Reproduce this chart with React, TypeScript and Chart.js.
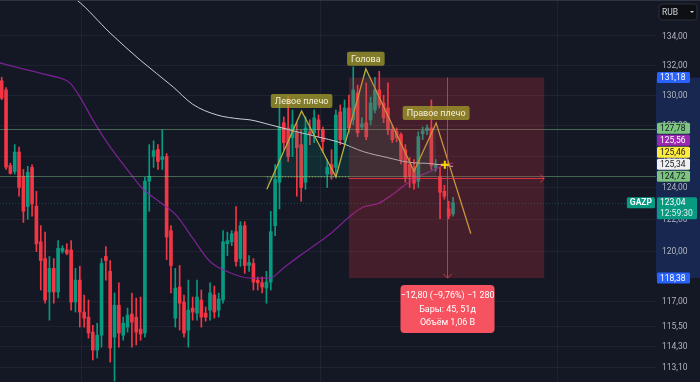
import { useEffect, useRef } from 'react';
import { Chart, registerables } from 'chart.js';
Chart.register(...registerables);

// ---- candles (daily, GAZP) ----
const opens = [
  130.96, 130.35, 125.4, 125.02, 126.27, 124.72, 122.8, 125.28, 122.82, 120.6,
  119.57, 117.54, 118.97, 117.54, 120.02, 120.1, 120.1, 116.94, 118.26, 116.34,
  116.04, 115.15, 114.1, 114.97, 119.7, 118.79, 114.86, 116.75, 114.97, 115.45,
  116.22, 116.04, 115.33, 115.1, 124.4, 125.98, 126.43, 125.79, 125.98, 121.29,
  115.98, 117.84, 116.94, 115.27, 116.58, 116.28, 117.06, 116.28, 116.46, 117.36,
  116.46, 117.06, 120.48, 120.6, 121.23, 119.57, 121.6, 119.15, 119.27, 118.26,
  118.1, 117.78, 118.14, 121.6, 124.33, 128.18, 127.84, 127.2, 127.59, 126.75,
  124.33, 127.59, 127.52, 128.37, 127.72, 124.85, 125.47, 125.28, 128.89, 127.07,
  129.15, 128.37, 130.15, 127.9, 128.18, 128.37, 129.02, 130.35, 129.48, 129.15,
  127.72, 127.59, 127.4, 126.43, 125.47, 125.15, 124.4, 127.46, 127.65, 127.84,
  125.28, 124.65, 123.76, 122.65, 122.33,
];
const highs = [
  131.2, 130.5, 125.55, 126.75, 126.6, 125.15, 125.35, 125.45, 123.76, 121.6,
  121.2, 119.7, 119.57, 120.67, 120.36, 120.48, 120.67, 118.97, 119.1, 117.36,
  117.06, 115.56, 115.68, 119.57, 120.3, 119.45, 117.48, 118.1, 116.04, 116.58,
  117.48, 117.18, 117.24, 124.65, 126.75, 127.0, 126.75, 127.72, 126.17, 121.6,
  118.97, 119.15, 117.36, 118.26, 117.24, 118.26, 117.66, 116.64, 118.1, 117.9,
  117.48, 121.29, 121.2, 121.29, 122.8, 121.85, 121.85, 119.75, 119.57, 118.44,
  118.44, 118.79, 122.5, 125.47, 129.48, 128.56, 129.94, 129.02, 128.18, 127.72,
  128.56, 128.37, 129.02, 128.69, 127.9, 125.79, 126.43, 129.02, 129.35, 129.68,
  130.0, 131.9, 130.68, 128.5, 130.82, 129.87, 131.2, 131.6, 130.0, 130.82,
  128.05, 127.84, 127.52, 126.75, 125.92, 125.79, 127.59, 127.9, 128.05, 129.68,
  125.79, 125.28, 124.14, 123.13, 123.38,
];
const lows = [
  129.7, 125.15, 124.85, 124.85, 123.45, 121.8, 122.0, 122.2, 120.0, 117.66,
  116.87, 115.86, 116.87, 117.18, 119.9, 119.8, 116.46, 116.34, 115.45, 115.45,
  114.8, 113.52, 113.64, 114.27, 118.26, 113.4, 112.3, 114.27, 114.68, 115.15,
  114.27, 114.4, 114.68, 114.86, 122.5, 125.28, 125.15, 125.15, 119.5, 117.48,
  115.45, 115.27, 114.86, 114.27, 115.86, 115.86, 115.45, 115.8, 115.86, 115.98,
  116.04, 116.87, 119.75, 120.36, 119.1, 119.1, 118.67, 118.79, 117.66, 117.66,
  117.48, 116.87, 117.66, 120.98, 122.65, 126.43, 125.66, 125.98, 123.45, 123.13,
  123.89, 126.75, 126.88, 127.27, 126.24, 124.0, 124.52, 124.65, 126.75, 126.75,
  127.52, 128.05, 127.27, 127.72, 127.07, 128.05, 128.82, 129.15, 128.18, 127.4,
  126.88, 126.94, 125.5, 124.33, 124.0, 123.89, 124.0, 127.07, 127.4, 125.15,
  125.02, 122.03, 123.26, 122.03, 122.2,
];
const closes = [
  129.8, 125.3, 124.9, 126.27, 124.0, 122.5, 124.97, 122.96, 120.48, 119.45,
  117.06, 118.97, 117.54, 120.2, 120.2, 119.9, 116.94, 118.26, 116.34, 115.98,
  115.1, 114.1, 114.97, 119.27, 119.45, 114.22, 116.75, 115.1, 115.68, 116.16,
  115.74, 115.15, 115.04, 124.4, 124.72, 126.36, 125.66, 125.98, 120.9, 119.15,
  117.78, 116.87, 115.1, 116.46, 116.34, 117.24, 116.04, 116.04, 117.48, 116.34,
  117.12, 120.6, 120.67, 121.1, 119.39, 121.6, 119.15, 119.33, 118.14, 118.1,
  117.84, 118.14, 121.23, 124.52, 127.9, 126.88, 125.98, 128.05, 126.56, 124.0,
  127.84, 127.4, 128.5, 127.72, 126.94, 125.28, 124.85, 128.7, 127.07, 129.15,
  127.84, 130.35, 127.52, 128.1, 127.27, 129.48, 130.35, 129.35, 128.5, 127.72,
  127.07, 127.2, 125.79, 124.65, 124.72, 124.27, 127.27, 127.65, 127.84, 125.4,
  125.47, 123.7, 123.45, 122.2, 123.04,
];

// ---- moving averages (read at bar positions) ----
const whiteMaIdx = [14, 17.3, 25, 31.9, 39.5, 44, 49.6, 54.9, 57.2, 61.8, 68, 72.6, 78, 83.3, 88.8, 94, 98.7, 104];
const whiteMaVal = [137.05, 136.49, 134.2, 132.36, 130.55, 129.4, 128.69, 128.43, 128.37, 128.05, 127.59, 127.27, 126.88, 126.3, 125.92, 125.6, 125.53, 125.34];
const purpleMaIdx = [-0.4, 4.2, 9.5, 13.4, 15.7, 18, 21, 24.3, 28.9, 32.6, 36.5, 40.4, 44.1, 48, 51.9, 57.2, 61.8, 64.8, 68.7, 72.6, 76.3, 80.3, 83.3, 86.5, 89.5, 92.5, 95.7, 98.7, 101.7, 104];
const purpleMaVal = [132.16, 131.82, 131.42, 131.15, 130.82, 129.89, 128.37, 126.88, 125.15, 123.89, 123.07, 122.2, 120.79, 119.39, 118.79, 118.38, 118.38, 118.97, 119.75, 120.48, 121.23, 122.2, 122.77, 122.96, 123.45, 124.07, 124.65, 125.02, 125.4, 125.56];

// ---- head & shoulders drawing ----
const patternIdx = [61.1, 69.1, 77.0, 83.9, 95.0, 100.1, 108.1];
const patternVal = [123.89, 128.95, 124.67, 131.77, 125.04, 128.16, 121.1];
const patternLabels = ['Левое плечо', 'Голова', 'Правое плечо'];
const patternLabelPoints = [1, 3, 5];
const necklinePrice = 124.67;

// ---- levels, measure tool ----
const levelLines = [127.78, 124.72];
const measureStartIdx = 80;
const measureEndIdx = 125;
const measureFrom = 131.18;
const measureTo = 118.38;
const measureDays = 51;
const measureVolume = '1,06 B';
const cursorIdx = 102.1;
const cursorPrice = 125.46;
const symbol = 'GAZP';
const lastTime = '12:59:30';
const currency = 'RUB';

// ---- axes ----
const priceTicks = [134, 132, 130, 128, 126, 124, 122, 120, 117, 115.5, 114.3, 113.1];
const timeGridIdx = [18.3, 73.3, 128];
const axisTags = [
  { v: 131.18, bg: '#2962ff', fg: '#ffffff' },
  { v: 127.78, bg: '#7cc47f', fg: '#131722' },
  { v: 125.56, bg: '#9c27b0', fg: '#ffffff' },
  { v: 125.46, bg: '#ffeb3b', fg: '#131722' },
  { v: 125.34, bg: '#f0f0f0', fg: '#131722' },
  { v: 124.72, bg: '#7cc47f', fg: '#131722' },
  { v: 118.38, bg: '#2962ff', fg: '#ffffff' },
];

const X_MIN = -0.39;
const X_MAX = 150.76;
const Y_MIN = 112.25;
const Y_MAX = 136.49;
const AXIS_W = 44;

const UP = '#089981';
const DOWN = '#f23645';
const BG = '#141824';
const FONT = 'Roboto, "Noto Sans", sans-serif';

const fmt = (v: number) => v.toFixed(2).replace('.', ',').replace('-', '−');

function rrect(ctx: CanvasRenderingContext2D, x: number, y: number, w: number, h: number, r: number) {
  ctx.beginPath();
  ctx.moveTo(x + r, y);
  ctx.lineTo(x + w - r, y);
  ctx.quadraticCurveTo(x + w, y, x + w, y + r);
  ctx.lineTo(x + w, y + h - r);
  ctx.quadraticCurveTo(x + w, y + h, x + w - r, y + h);
  ctx.lineTo(x + r, y + h);
  ctx.quadraticCurveTo(x, y + h, x, y + h - r);
  ctx.lineTo(x, y + r);
  ctx.quadraticCurveTo(x, y, x + r, y);
  ctx.closePath();
}

const overlay = {
  id: 'overlay',
  beforeDraw(chart: any) {
    const { ctx, width, height, chartArea: a } = chart;
    const ys = chart.scales.y;
    ctx.save();
    ctx.fillStyle = BG;
    ctx.fillRect(0, 0, width, height);
    const t = ys.getPixelForValue(measureFrom);
    const b = ys.getPixelForValue(measureTo);
    ctx.fillStyle = 'rgba(41,98,255,0.2)';
    ctx.fillRect(a.right, t, width - a.right, b - t);
    ctx.restore();
  },
  beforeDatasetsDraw(chart: any) {
    const { ctx, chartArea: a } = chart;
    const xs = chart.scales.x;
    const ys = chart.scales.y;
    ctx.save();
    ctx.strokeStyle = 'rgba(255,255,255,0.05)';
    ctx.lineWidth = 1;
    timeGridIdx.forEach((i) => {
      const x = Math.round(xs.getPixelForValue(i)) + 0.5;
      ctx.beginPath();
      ctx.moveTo(x, a.top);
      ctx.lineTo(x, a.bottom);
      ctx.stroke();
    });
    // last price line
    const ly = Math.round(ys.getPixelForValue(closes[closes.length - 1])) + 0.5;
    ctx.strokeStyle = 'rgba(8,153,129,0.4)';
    ctx.setLineDash([1, 2]);
    ctx.beginPath();
    ctx.moveTo(a.left, ly);
    ctx.lineTo(a.right, ly);
    ctx.stroke();
    ctx.restore();
  },
  afterDatasetsDraw(chart: any) {
    const { ctx, chartArea: a } = chart;
    const xs = chart.scales.x;
    const ys = chart.scales.y;
    ctx.save();
    // level lines
    ctx.strokeStyle = 'rgba(129,199,132,0.45)';
    ctx.lineWidth = 1;
    levelLines.forEach((v) => {
      const y = Math.round(ys.getPixelForValue(v)) + 0.5;
      ctx.beginPath();
      ctx.moveTo(a.left, y);
      ctx.lineTo(a.right, y);
      ctx.stroke();
    });
    // measure box
    const x0 = xs.getPixelForValue(measureStartIdx);
    const x1 = xs.getPixelForValue(measureEndIdx);
    const t = ys.getPixelForValue(measureFrom);
    const b = ys.getPixelForValue(measureTo);
    ctx.fillStyle = 'rgba(242,54,69,0.22)';
    ctx.fillRect(x0, t, x1 - x0, b - t);
    const cx = Math.round((x0 + x1) / 2) + 0.5;
    const cy = Math.round((t + b) / 2) + 0.5;
    ctx.strokeStyle = 'rgba(242,54,69,0.85)';
    ctx.lineWidth = 1;
    ctx.beginPath();
    ctx.moveTo(x0, cy);
    ctx.lineTo(x1, cy);
    ctx.moveTo(x1 - 4, cy - 4);
    ctx.lineTo(x1, cy);
    ctx.lineTo(x1 - 4, cy + 4);
    ctx.moveTo(cx, t);
    ctx.lineTo(cx, b);
    ctx.moveTo(cx - 4, b - 4);
    ctx.lineTo(cx, b);
    ctx.lineTo(cx + 4, b - 4);
    ctx.stroke();
    // cursor plus
    const px = xs.getPixelForValue(cursorIdx);
    const py = ys.getPixelForValue(cursorPrice);
    ctx.strokeStyle = '#ffd600';
    ctx.lineWidth = 2;
    ctx.beginPath();
    ctx.moveTo(px - 4, py);
    ctx.lineTo(px + 4, py);
    ctx.moveTo(px, py - 4);
    ctx.lineTo(px, py + 4);
    ctx.stroke();
    // pattern labels
    ctx.font = `9px ${FONT}`;
    ctx.textAlign = 'center';
    ctx.textBaseline = 'middle';
    patternLabels.forEach((txt, k) => {
      const pi = patternLabelPoints[k];
      const lx = xs.getPixelForValue(patternIdx[pi]);
      const lyy = ys.getPixelForValue(patternVal[pi]);
      const w = ctx.measureText(txt).width + 8;
      const h = 14;
      ctx.fillStyle = 'rgba(160,152,42,0.78)';
      rrect(ctx, lx - w / 2, lyy - 3 - h, w, h, 2);
      ctx.fill();
      ctx.fillStyle = '#f3f0d6';
      ctx.fillText(txt, lx, lyy - 3 - h / 2 + 0.5);
    });
    // measure tooltip
    const diff = measureTo - measureFrom;
    const pct = (diff / measureFrom) * 100;
    const ticks = Math.round(diff * 100);
    const tickStr = (ticks < 0 ? '−' : '') + Math.abs(ticks).toLocaleString('en-US').replace(/,/g, ' ');
    const lines = [
      `${fmt(diff)} (${fmt(pct)}%) ${tickStr}`,
      `Бары: ${measureEndIdx - measureStartIdx}, ${measureDays}д`,
      `Объём ${measureVolume}`,
    ];
    const tw = 94;
    const th = 48;
    const tx = cx - tw / 2;
    const ty = b + 7;
    ctx.fillStyle = '#f7525f';
    rrect(ctx, tx, ty, tw, th, 4);
    ctx.fill();
    ctx.fillStyle = '#ffffff';
    ctx.font = `9px ${FONT}`;
    lines.forEach((l, k) => ctx.fillText(l, cx, ty + 11 + k * 13.5));
    // symbol label
    const lp = ys.getPixelForValue(closes[closes.length - 1]);
    ctx.font = `bold 8.5px ${FONT}`;
    const sw = ctx.measureText(symbol).width + 6;
    ctx.fillStyle = UP;
    rrect(ctx, a.right - 1 - sw, lp - 5.5, sw, 11, 1.5);
    ctx.fill();
    ctx.fillStyle = '#ffffff';
    ctx.fillText(symbol, a.right - 1 - sw / 2, lp + 0.5);
    ctx.restore();
  },
  afterDraw(chart: any) {
    const { ctx, chartArea: a, width } = chart;
    const ys = chart.scales.y;
    ctx.save();
    // top border
    ctx.fillStyle = '#2f3340';
    ctx.fillRect(0, 0, width, 1);
    // tick labels
    ctx.font = `8.5px ${FONT}`;
    ctx.textAlign = 'left';
    ctx.textBaseline = 'middle';
    ctx.fillStyle = '#b2b5be';
    priceTicks.forEach((v) => {
      ctx.fillText(fmt(v), a.right + 6, ys.getPixelForValue(v) + 0.5);
    });
    // colored tags with overlap resolution
    const tags = axisTags.map((t) => ({ ...t, y: ys.getPixelForValue(t.v) }));
    const sorted = [...tags].sort((p, q) => q.y - p.y);
    let prev = Infinity;
    sorted.forEach((t) => {
      t.y = Math.min(t.y, prev - 12);
      prev = t.y;
    });
    sorted.forEach((t) => {
      ctx.fillStyle = t.bg;
      rrect(ctx, a.right + 1, t.y - 5.5, 33, 11, 1.5);
      ctx.fill();
      ctx.fillStyle = t.fg;
      ctx.fillText(fmt(t.v), a.right + 4, t.y + 0.5);
    });
    // last price tag
    const lp = ys.getPixelForValue(closes[closes.length - 1]);
    ctx.fillStyle = UP;
    rrect(ctx, a.right + 1, lp - 5.5, 40, 22, 1.5);
    ctx.fill();
    ctx.fillStyle = '#ffffff';
    ctx.fillText(fmt(closes[closes.length - 1]), a.right + 4, lp + 0.5);
    ctx.fillStyle = '#e0f2ee';
    ctx.fillText(lastTime, a.right + 4, lp + 11);
    // currency button
    ctx.fillStyle = '#0d0f15';
    rrect(ctx, a.right + 3, 4, 38, 16, 3);
    ctx.fill();
    ctx.strokeStyle = '#2a2e39';
    ctx.lineWidth = 1;
    ctx.stroke();
    ctx.fillStyle = '#d1d4dc';
    ctx.font = `8.5px ${FONT}`;
    ctx.fillText(currency, a.right + 6, 12.5);
    ctx.beginPath();
    ctx.moveTo(a.right + 34, 11);
    ctx.lineTo(a.right + 38, 11);
    ctx.lineTo(a.right + 36, 13);
    ctx.closePath();
    ctx.fill();
    ctx.restore();
  },
};

export default function App() {
  const ref = useRef<HTMLCanvasElement>(null);
  useEffect(() => {
    document.body.style.margin = '0';
    const canvas = ref.current;
    if (!canvas) return;
    const colors = closes.map((c, i) => (c >= opens[i] ? UP : DOWN));
    const bodies = closes.map((c, i) => ({ x: i, y: [opens[i], c] }));
    const wicks = closes.map((_, i) => ({ x: i, y: [lows[i], highs[i]] }));
    const pts = (xs: number[], vs: number[]) => xs.map((x, i) => ({ x, y: vs[i] }));
    const chart = new Chart(canvas, {
      type: 'bar',
      data: {
        datasets: [
          {
            type: 'line',
            data: pts(patternIdx, patternVal),
            borderColor: '#bfac3c',
            borderWidth: 1.3,
            pointRadius: 0,
            fill: false,
            order: 1,
          },
          {
            type: 'line',
            data: pts(patternIdx.slice(0, 6), patternVal.slice(0, 6)),
            borderWidth: 0,
            borderColor: 'rgba(0,0,0,0)',
            pointRadius: 0,
            fill: { value: necklinePrice },
            backgroundColor: 'rgba(8,153,129,0.16)',
            order: 2,
          },
          {
            type: 'line',
            data: [
              { x: patternIdx[0], y: necklinePrice },
              { x: measureStartIdx, y: necklinePrice },
            ],
            borderColor: '#b8a63a',
            borderWidth: 1,
            borderDash: [1, 2],
            pointRadius: 0,
            fill: false,
            order: 2,
          },
          {
            type: 'line',
            data: pts(whiteMaIdx, whiteMaVal),
            borderColor: '#c9ccd4',
            borderWidth: 1,
            pointRadius: 0,
            cubicInterpolationMode: 'monotone',
            fill: false,
            order: 3,
          },
          {
            type: 'line',
            data: pts(purpleMaIdx, purpleMaVal),
            borderColor: 'rgba(142,36,170,0.8)',
            borderWidth: 1.3,
            pointRadius: 0,
            cubicInterpolationMode: 'monotone',
            fill: false,
            order: 3,
          },
          {
            type: 'bar',
            data: wicks,
            backgroundColor: colors,
            barThickness: 1,
            grouped: false,
            order: 6,
          },
          {
            type: 'bar',
            data: bodies,
            backgroundColor: colors,
            barThickness: 3,
            minBarLength: 1,
            grouped: false,
            order: 5,
          },
        ] as any,
      },
      options: {
        animation: false,
        responsive: false,
        devicePixelRatio: 1,
        layout: { padding: 0 },
        events: [],
        plugins: { legend: { display: false }, tooltip: { enabled: false } },
        scales: {
          x: { type: 'linear', min: X_MIN, max: X_MAX, offset: false, display: false },
          y: {
            type: 'logarithmic',
            position: 'right',
            min: Y_MIN,
            max: Y_MAX,
            afterBuildTicks: (s: any) => {
              s.ticks = priceTicks.map((v) => ({ value: v }));
            },
            afterFit: (s: any) => {
              s.width = AXIS_W;
            },
            grid: { color: 'rgba(255,255,255,0.05)', drawTicks: false },
            border: { display: false },
            ticks: { display: false },
          },
        },
      } as any,
      plugins: [overlay],
    });
    return () => chart.destroy();
  }, []);
  return (
    <div style={{ position: 'absolute', left: 0, top: 0, width: 700, height: 382, background: BG }}>
      <canvas ref={ref} width={700} height={382} style={{ display: 'block' }} />
    </div>
  );
}
